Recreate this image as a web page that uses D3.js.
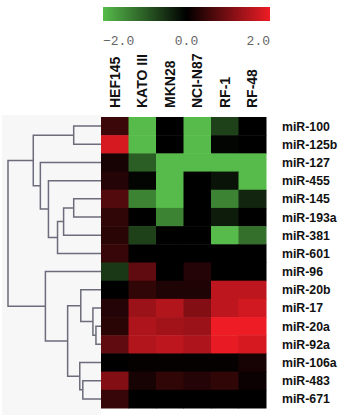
<!DOCTYPE html>
<html lang="en">
<head>
<meta charset="UTF-8">
<title>miRNA heatmap</title>
<script src="https://d3js.org/d3.v7.min.js"></script>
<style>
  body { margin: 0; background: #fff; }
  svg { display: block; }
</style>
</head>
<body>
<svg></svg>
<script>
const width = 350, height = 417;

const samples = ["HEF145", "KATO III", "MKN28", "NCI-N87", "RF-1", "RF-48"];
const mirnas = ["miR-100", "miR-125b", "miR-127", "miR-455", "miR-145", "miR-193a",
  "miR-381", "miR-601", "miR-96", "miR-20b", "miR-17", "miR-20a", "miR-92a",
  "miR-106a", "miR-483", "miR-671"];

// log ratio per miRNA (rows) and cell line (columns)
const values = [
  [0.5, -2.0, 0.0, -2.0, -0.7, 0.0],
  [1.8, -2.0, 0.0, -2.0, -0.05, 0.0],
  [0.2, -1.0, -2.0, -2.0, -2.0, -2.0],
  [0.3, -0.05, -2.0, 0.0, -0.2, -2.0],
  [0.7, -1.4, -2.0, 0.0, -1.4, -0.4],
  [0.4, 0.0, -1.4, 0.0, -0.3, 0.0],
  [0.35, -0.7, 0.0, 0.0, -2.0, -1.2],
  [0.45, 0.0, 0.0, 0.0, 0.0, 0.0],
  [-0.6, 0.8, 0.0, 0.3, 0.0, 0.0],
  [0.0, 0.4, 0.25, 0.25, 1.6, 1.6],
  [0.3, 1.3, 1.5, 1.1, 1.6, 1.75],
  [0.35, 1.45, 1.35, 1.3, 2.0, 2.0],
  [0.8, 1.5, 1.6, 1.45, 1.95, 1.8],
  [0.0, 0.05, 0.05, 0.05, 0.05, 0.2],
  [1.1, 0.2, 0.4, 0.3, 0.4, 0.1],
  [0.45, 0.0, 0.0, 0.0, 0.0, 0.0]
];

const legendTicks = [-2.0, 0.0, 2.0];

// row clustering: [node, left, right, merge height]
const merges = [
  ["n1", "miR-100", "miR-125b", 27],
  ["n2", "miR-145", "miR-193a", 27],
  ["n3", "n2", "miR-381", 37],
  ["n4", "n3", "miR-601", 43],
  ["n5", "miR-455", "n4", 52],
  ["n6", "miR-127", "n5", 60],
  ["n7", "n1", "n6", 67],
  ["n8", "miR-20a", "miR-92a", 5],
  ["n9", "miR-17", "n8", 8],
  ["n10", "miR-20b", "n9", 20],
  ["n11", "miR-483", "miR-671", 18],
  ["n12", "miR-106a", "n11", 21],
  ["n13", "n10", "n12", 33],
  ["n14", "miR-96", "n13", 55],
  ["root", "n7", "n14", 92]
];

const svg = d3.select("svg").attr("width", width).attr("height", height);

const color = d3.scaleLinear()
  .domain([-2, 0, 2])
  .range(["#56bb4a", "#000000", "#ee1c25"])
  .clamp(true);

const x = d3.scaleBand().domain(samples).range([101, 266]);
const y = d3.scaleBand().domain(mirnas).range([117, 408]);

// dendrogram background
svg.append("rect")
  .attr("x", 2).attr("y", 115)
  .attr("width", 99).attr("height", 300)
  .attr("fill", "#f7f7f7");

// dendrogram
const xDen = d3.scaleLinear().domain([0, 92]).range([101, 8]);
const nodeY = {}, nodeH = {};
mirnas.forEach(m => { nodeY[m] = y(m) + y.bandwidth() / 2; nodeH[m] = 0; });
merges.forEach(([id, a, b, h]) => {
  nodeY[id] = (nodeY[a] + nodeY[b]) / 2;
  nodeH[id] = h;
});

svg.append("g")
  .selectAll("path")
  .data(merges)
  .join("path")
  .attr("d", ([id, a, b, h]) =>
    `M${xDen(nodeH[a])},${nodeY[a]}H${xDen(h)}V${nodeY[b]}H${xDen(nodeH[b])}`)
  .attr("fill", "none")
  .attr("stroke", "#6c6c7c")
  .attr("stroke-width", 1.5);

// heatmap cells
const cells = [];
values.forEach((row, i) => row.forEach((v, j) => cells.push({ r: mirnas[i], c: samples[j], v })));

svg.append("g")
  .selectAll("rect")
  .data(cells)
  .join("rect")
  .attr("x", d => x(d.c))
  .attr("y", d => y(d.r))
  .attr("width", x.bandwidth() + 0.5)
  .attr("height", y.bandwidth() + 0.5)
  .attr("fill", d => color(d.v));

// column labels
svg.append("g")
  .selectAll("text")
  .data(samples)
  .join("text")
  .attr("transform", d => `translate(${x(d) + x.bandwidth() / 2 + 5},108) rotate(-90)`)
  .attr("font-family", "Liberation Sans, Arial, sans-serif")
  .attr("font-weight", "bold")
  .attr("font-size", 14)
  .attr("fill", "#111")
  .text(d => d);

// row labels
svg.append("g")
  .selectAll("text")
  .data(mirnas)
  .join("text")
  .attr("x", 282)
  .attr("y", d => y(d) + y.bandwidth() / 2 + 4.5)
  .attr("font-family", "Liberation Sans, Arial, sans-serif")
  .attr("font-weight", "bold")
  .attr("font-size", 12.3)
  .attr("fill", "#111")
  .text(d => d);

// colour legend
const lx = d3.scaleLinear().domain([-2, 2]).range([103, 270]);
const grad = svg.append("defs").append("linearGradient").attr("id", "legendGrad");
grad.selectAll("stop")
  .data(d3.range(-2, 2.01, 0.5))
  .join("stop")
  .attr("offset", d => (d + 2) / 4)
  .attr("stop-color", d => color(d));

svg.append("rect")
  .attr("x", lx(-2)).attr("y", 7)
  .attr("width", lx(2) - lx(-2)).attr("height", 14)
  .attr("fill", "url(#legendGrad)");

svg.append("g")
  .selectAll("text")
  .data(legendTicks)
  .join("text")
  .attr("x", d => lx(d))
  .attr("y", 45)
  .attr("text-anchor", (d, i) => i === 0 ? "start" : i === legendTicks.length - 1 ? "end" : "middle")
  .attr("font-family", "Liberation Mono, DejaVu Sans Mono, monospace")
  .attr("font-size", 13)
  .attr("fill", "#666")
  .text(d => d3.format(".1f")(d).replace("-", "\u2212"));
</script>
</body>
</html>
